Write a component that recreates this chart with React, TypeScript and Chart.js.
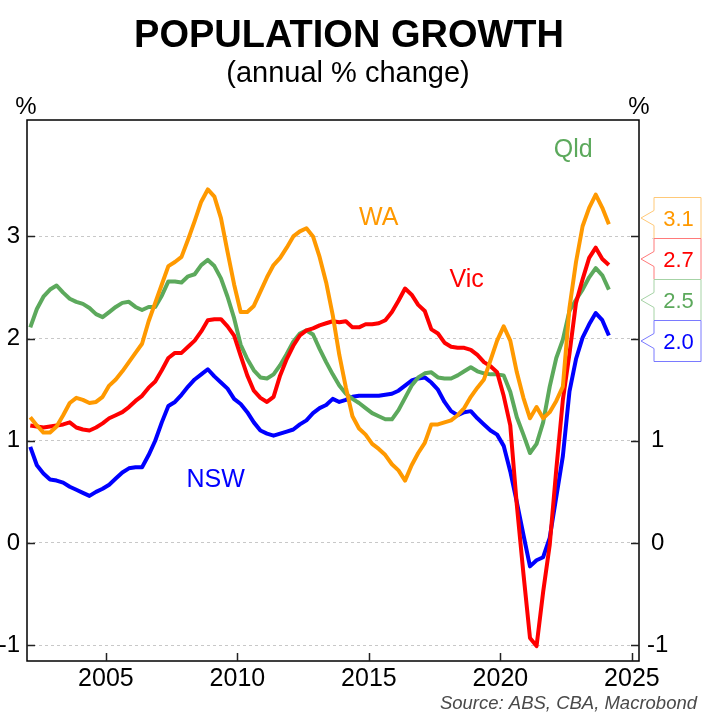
import React, { useEffect, useRef } from "react";
import { Chart, registerables } from "chart.js";

Chart.register(...registerables);

const FONT = '"Liberation Sans", Arial, Helvetica, sans-serif';

// Quarterly observations, first one at 2002.125 (decimal year), 89 quarters
const FIRST_QUARTER = 2002.125;
const quarterX: number[] = Array.from({ length: 89 }, (_, i) => FIRST_QUARTER + i * 0.25);

const nsw = [
  0.94, 0.76, 0.68, 0.62, 0.61, 0.59, 0.55, 0.52, 0.49, 0.46,
  0.50, 0.53, 0.57, 0.63, 0.69, 0.73, 0.74, 0.74, 0.86, 1.00,
  1.18, 1.34, 1.38, 1.45, 1.53, 1.60, 1.65, 1.70, 1.63, 1.57,
  1.51, 1.41, 1.36, 1.28, 1.18, 1.10, 1.07, 1.05, 1.07, 1.09,
  1.11, 1.16, 1.20, 1.27, 1.32, 1.35, 1.41, 1.38, 1.40, 1.43,
  1.44, 1.44, 1.44, 1.44, 1.45, 1.46, 1.49, 1.54, 1.59, 1.61,
  1.62, 1.57, 1.50, 1.38, 1.29, 1.25, 1.28, 1.29, 1.22, 1.16,
  1.10, 1.06, 0.95, 0.70, 0.40, 0.08, -0.23, -0.17, -0.14, 0.05,
  0.45, 0.85, 1.48, 1.80, 2.01, 2.14, 2.25, 2.18, 2.03,
];

const vic = [
  1.15, 1.14, 1.13, 1.14, 1.15, 1.16, 1.18, 1.13, 1.11, 1.10,
  1.13, 1.17, 1.22, 1.25, 1.28, 1.33, 1.39, 1.44, 1.52, 1.58,
  1.69, 1.81, 1.86, 1.86, 1.92, 1.98, 2.07, 2.18, 2.19, 2.19,
  2.12, 2.03, 1.83, 1.64, 1.49, 1.42, 1.38, 1.43, 1.64, 1.80,
  1.93, 2.03, 2.08, 2.10, 2.13, 2.15, 2.17, 2.16, 2.17, 2.11,
  2.11, 2.14, 2.14, 2.15, 2.18, 2.26, 2.37, 2.49, 2.43, 2.33,
  2.27, 2.09, 2.05, 1.96, 1.92, 1.91, 1.91, 1.89, 1.84, 1.77,
  1.73, 1.67, 1.44, 1.15, 0.37, -0.30, -0.93, -1.01, -0.48, -0.02,
  0.72, 1.40, 1.85, 2.35, 2.58, 2.79, 2.89, 2.78, 2.72,
];

const qld = [
  2.11, 2.29, 2.41, 2.48, 2.52, 2.45, 2.39, 2.36, 2.34, 2.30,
  2.24, 2.21, 2.26, 2.31, 2.35, 2.36, 2.31, 2.28, 2.31, 2.31,
  2.42, 2.56, 2.56, 2.55, 2.61, 2.63, 2.72, 2.77, 2.71, 2.59,
  2.41, 2.20, 1.94, 1.80, 1.69, 1.62, 1.61, 1.65, 1.74, 1.85,
  1.97, 2.05, 2.08, 2.04, 1.90, 1.77, 1.65, 1.54, 1.46, 1.41,
  1.37, 1.32, 1.27, 1.24, 1.21, 1.21, 1.30, 1.42, 1.54, 1.62,
  1.66, 1.67, 1.62, 1.61, 1.61, 1.64, 1.68, 1.72, 1.68, 1.66,
  1.65, 1.65, 1.64, 1.48, 1.23, 1.06, 0.88, 0.97, 1.18, 1.53,
  1.81, 1.99, 2.27, 2.38, 2.48, 2.60, 2.69, 2.62, 2.48,
];

const wa = [
  1.23, 1.15, 1.08, 1.08, 1.14, 1.25, 1.37, 1.42, 1.40, 1.37,
  1.38, 1.43, 1.54, 1.60, 1.68, 1.77, 1.86, 1.95, 2.17, 2.35,
  2.53, 2.71, 2.75, 2.80, 2.97, 3.15, 3.34, 3.46, 3.39, 3.18,
  2.85, 2.53, 2.26, 2.26, 2.32, 2.46, 2.60, 2.72, 2.79, 2.89,
  3.00, 3.05, 3.08, 3.00, 2.80, 2.55, 2.23, 1.84, 1.52, 1.24,
  1.12, 1.06, 0.97, 0.92, 0.86, 0.77, 0.71, 0.61, 0.76, 0.88,
  0.98, 1.16, 1.16, 1.18, 1.20, 1.25, 1.32, 1.43, 1.52, 1.60,
  1.79, 1.98, 2.12, 1.98, 1.67, 1.42, 1.22, 1.33, 1.22, 1.28,
  1.39, 1.53, 2.30, 2.75, 3.10, 3.28, 3.41, 3.28, 3.12,
];

const xTicks = [2005, 2010, 2015, 2020, 2025];
const yTicks = [-1, 0, 1, 2, 3];

const TITLE = "POPULATION GROWTH";
const SUBTITLE = "(annual % change)";
const SOURCE = "Source: ABS, CBA, Macrobond";

type Series = { name: string; values: number[]; color: string; boxBorder: string; labelX: number; labelY: number };

// drawn top-most first
const series: Series[] = [
  { name: "WA", values: wa, color: "#ff9900", boxBorder: "#ffc978", labelX: 2015.37, labelY: 3.11 },
  { name: "Vic", values: vic, color: "#ff0000", boxBorder: "#ff7a7a", labelX: 2018.72, labelY: 2.51 },
  { name: "Qld", values: qld, color: "#5ca95c", boxBorder: "#a6d3a6", labelX: 2022.77, labelY: 3.78 },
  { name: "NSW", values: nsw, color: "#0000ff", boxBorder: "#7a7aff", labelX: 2009.17, labelY: 0.55 },
];

const decorPlugin = {
  id: "decor",
  afterDraw(chart: any) {
    const ctx: CanvasRenderingContext2D = chart.ctx;
    const ca = chart.chartArea;
    const xs = chart.scales.x;
    const ys = chart.scales.y;
    ctx.save();

    // plot frame
    ctx.strokeStyle = "#000";
    ctx.lineWidth = 1.5;
    ctx.strokeRect(ca.left, ca.top, ca.right - ca.left, ca.bottom - ca.top);

    // inward tick marks
    ctx.strokeStyle = "#222";
    ctx.lineWidth = 1.5;
    ctx.beginPath();
    for (const t of xTicks) {
      const px = Math.round(xs.getPixelForValue(t)) + 0.5;
      ctx.moveTo(px, ca.bottom);
      ctx.lineTo(px, ca.bottom - 8);
    }
    for (const t of yTicks) {
      const py = Math.round(ys.getPixelForValue(t)) + 0.5;
      ctx.moveTo(ca.left, py);
      ctx.lineTo(ca.left + 8, py);
      ctx.moveTo(ca.right - 8, py);
      ctx.lineTo(ca.right, py);
    }
    ctx.stroke();

    // titles
    ctx.fillStyle = "#000";
    ctx.textAlign = "center";
    ctx.textBaseline = "alphabetic";
    ctx.font = `bold 38px ${FONT}`;
    ctx.fillText(TITLE, 349, 47);
    ctx.font = `29px ${FONT}`;
    ctx.fillText(SUBTITLE, 348, 82);

    // % unit labels
    ctx.font = `24px ${FONT}`;
    ctx.fillText("%", ca.left - 1, 114);
    ctx.fillText("%", ca.right, 114);

    // series labels
    ctx.font = `25px ${FONT}`;
    for (const s of series) {
      ctx.fillStyle = s.color;
      ctx.fillText(s.name, xs.getPixelForValue(s.labelX), ys.getPixelForValue(s.labelY));
    }

    // source
    ctx.font = `italic 18.5px ${FONT}`;
    ctx.fillStyle = "#4a4a4a";
    ctx.textAlign = "right";
    ctx.fillText(SOURCE, 697, 709);

    // last-value boxes
    const H = 41;
    const W = 47;
    const boxLeft = ca.right + 15;
    const tipX = ca.right + 2;
    const items = series
      .map((s) => {
        const last = s.values[s.values.length - 1];
        return { s, last, target: ys.getPixelForValue(last) };
      })
      .sort((a, b) => a.target - b.target);
    let groups = items.map((it) => ({ items: [it], top: it.target - H / 2 }));
    let merged = true;
    while (merged) {
      merged = false;
      for (let i = 0; i < groups.length - 1; i++) {
        const g = groups[i];
        const n = groups[i + 1];
        if (g.top + g.items.length * H > n.top) {
          const all = g.items.concat(n.items);
          const mean = all.reduce((acc, it) => acc + it.target, 0) / all.length;
          groups.splice(i, 2, { items: all, top: mean - (all.length * H) / 2 });
          merged = true;
          break;
        }
      }
    }
    ctx.lineWidth = 1;
    for (const g of groups) {
      g.items.forEach((it, j) => {
        const top = Math.round(g.top + j * H) + 0.5;
        const c = top + H / 2;
        // blank the strip beside the box (covers the axis labels underneath)
        ctx.fillStyle = "#fff";
        ctx.fillRect(ca.right + 1, top, boxLeft + W - ca.right, H);
        ctx.beginPath();
        ctx.moveTo(boxLeft, top);
        ctx.lineTo(boxLeft + W, top);
        ctx.lineTo(boxLeft + W, top + H);
        ctx.lineTo(boxLeft, top + H);
        ctx.lineTo(boxLeft, c + 7.5);
        ctx.lineTo(tipX, c);
        ctx.lineTo(boxLeft, c - 7.5);
        ctx.closePath();
        ctx.fillStyle = "#fff";
        ctx.fill();
        ctx.strokeStyle = it.s.boxBorder;
        ctx.stroke();
        ctx.fillStyle = it.s.color;
        ctx.font = `22px ${FONT}`;
        ctx.textAlign = "center";
        ctx.textBaseline = "alphabetic";
        ctx.fillText(it.last.toFixed(1), boxLeft + W / 2 + 1, c + 8);
      });
    }
    ctx.restore();
  },
};

export default function App() {
  const canvasRef = useRef<HTMLCanvasElement | null>(null);

  useEffect(() => {
    if (!canvasRef.current) return;
    const yFont = { family: FONT, size: 24 };
    const xFont = { family: FONT, size: 25 };
    const setYTicks = (scale: any) => {
      scale.ticks = yTicks.map((v) => ({ value: v }));
    };
    const chart = new Chart(canvasRef.current, {
      type: "line",
      data: {
        datasets: series.map((s) => ({
          label: s.name,
          data: s.values.map((v, i) => ({ x: quarterX[i], y: v })),
          borderColor: s.color,
          backgroundColor: s.color,
          borderWidth: 4,
          pointRadius: 0,
          tension: 0,
          fill: false,
          borderJoinStyle: "round" as const,
          yAxisID: "y",
        })),
      },
      options: {
        animation: false,
        responsive: false,
        events: [],
        layout: { padding: { top: 120, left: 0, right: 0, bottom: 0 } },
        plugins: {
          legend: { display: false },
          tooltip: { enabled: false },
          title: { display: false },
        },
        scales: {
          x: {
            type: "linear",
            min: 2002.0,
            max: 2025.27,
            position: "bottom",
            grid: { display: false, drawTicks: false },
            border: { display: false },
            afterBuildTicks: (scale: any) => {
              scale.ticks = xTicks.map((v) => ({ value: v }));
            },
            afterFit: (scale: any) => {
              scale.height = 52;
            },
            ticks: {
              font: xFont,
              color: "#000",
              padding: 3,
              maxRotation: 0,
              autoSkip: false,
              callback: (v: any) => String(v),
            },
          },
          y: {
            type: "linear",
            position: "left",
            min: -1.156,
            max: 4.14,
            grid: {
              display: true,
              drawTicks: false,
              color: "#c8c8c8",
              lineWidth: 1,
            },
            border: { display: false, dash: [3, 3] },
            afterBuildTicks: setYTicks,
            afterFit: (scale: any) => {
              scale.width = 27;
            },
            ticks: {
              font: yFont,
              color: "#000",
              padding: 7,
              autoSkip: false,
              callback: (v: any) => String(v),
            },
          },
          y2: {
            type: "linear",
            position: "right",
            min: -1.156,
            max: 4.14,
            grid: { display: false, drawTicks: false },
            border: { display: false },
            afterBuildTicks: setYTicks,
            afterFit: (scale: any) => {
              scale.width = 72;
            },
            ticks: {
              font: yFont,
              color: "#000",
              padding: 8,
              crossAlign: "center",
              autoSkip: false,
              callback: (v: any) => String(v),
            },
          },
        },
      },
      plugins: [decorPlugin],
    });
    return () => chart.destroy();
  }, []);

  return (
    <div style={{ position: "absolute", left: 0, top: 0, width: 711, height: 713, background: "#fff" }}>
      <canvas ref={canvasRef} width={711} height={713} style={{ display: "block" }} />
    </div>
  );
}
